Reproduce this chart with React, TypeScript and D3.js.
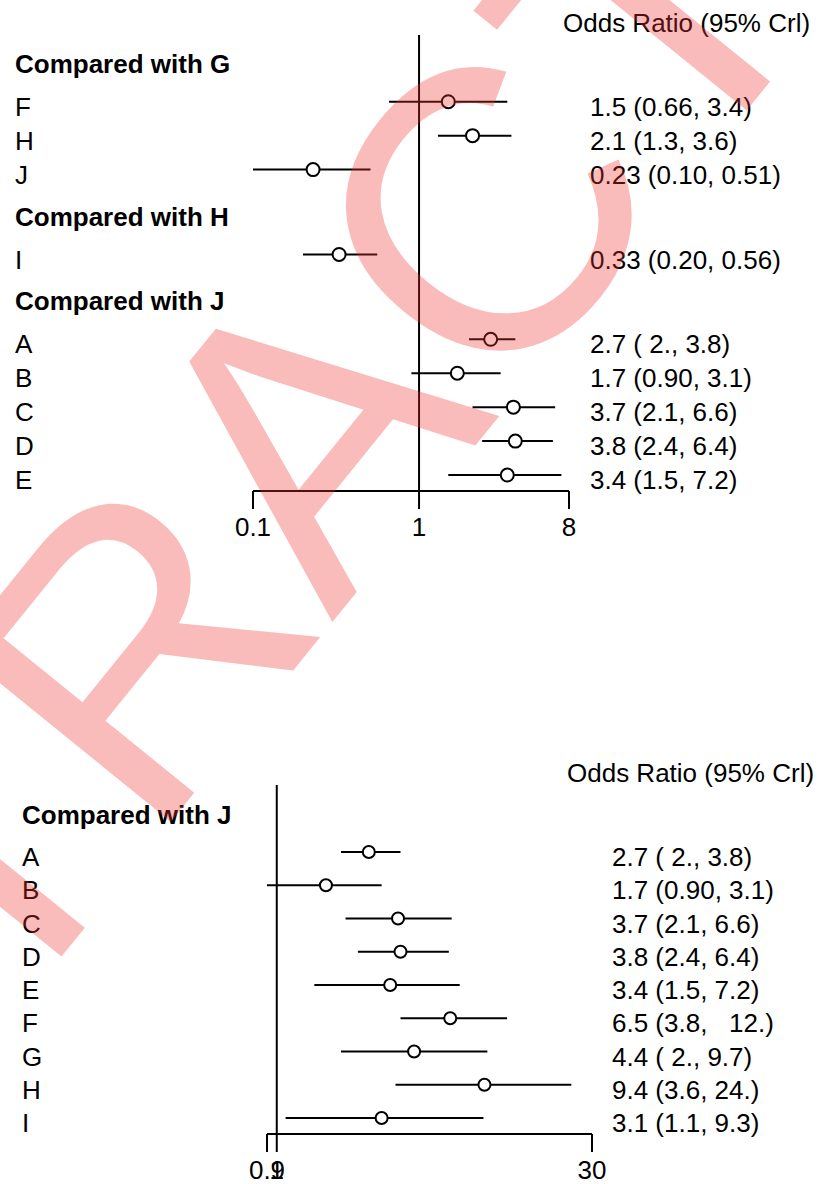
import React from "react";
import * as d3 from "d3";

// Upper panel: comparisons grouped by the reference treatment
const topComparators = ["G", "G", "G", "H", "J", "J", "J", "J", "J"];
const topTreatments = ["F", "H", "J", "I", "A", "B", "C", "D", "E"];
const topMedian = [1.5, 2.1, 0.23, 0.33, 2.7, 1.7, 3.7, 3.8, 3.4];
const topLower = [0.66, 1.3, 0.1, 0.2, 2.0, 0.9, 2.1, 2.4, 1.5];
const topUpper = [3.4, 3.6, 0.51, 0.56, 3.8, 3.1, 6.6, 6.4, 7.2];
const topLabels = [
  "1.5 (0.66, 3.4)",
  "2.1 (1.3, 3.6)",
  "0.23 (0.10, 0.51)",
  "0.33 (0.20, 0.56)",
  "2.7 ( 2., 3.8)",
  "1.7 (0.90, 3.1)",
  "3.7 (2.1, 6.6)",
  "3.8 (2.4, 6.4)",
  "3.4 (1.5, 7.2)",
];
const topTicks = [0.1, 1, 8];

// Lower panel: everything compared with J
const bottomComparators = ["J", "J", "J", "J", "J", "J", "J", "J", "J"];
const bottomTreatments = ["A", "B", "C", "D", "E", "F", "G", "H", "I"];
const bottomMedian = [2.7, 1.7, 3.7, 3.8, 3.4, 6.5, 4.4, 9.4, 3.1];
const bottomLower = [2.0, 0.9, 2.1, 2.4, 1.5, 3.8, 2.0, 3.6, 1.1];
const bottomUpper = [3.8, 3.1, 6.6, 6.4, 7.2, 12, 9.7, 24, 9.3];
const bottomLabels = [
  "2.7 ( 2., 3.8)",
  "1.7 (0.90, 3.1)",
  "3.7 (2.1, 6.6)",
  "3.8 (2.4, 6.4)",
  "3.4 (1.5, 7.2)",
  "6.5 (3.8,   12.)",
  "4.4 ( 2., 9.7)",
  "9.4 (3.6, 24.)",
  "3.1 (1.1, 9.3)",
];
const bottomTicks = [0.9, 1, 30];

const columnTitle = "Odds Ratio (95% Crl)";
const watermarkText = "ABSTRACT";

const FONT = "'Liberation Sans', Arial, Helvetica, sans-serif";

type PanelProps = {
  comparators: string[];
  treatments: string[];
  median: number[];
  lower: number[];
  upper: number[];
  labels: string[];
  ticks: number[];
  xRange: [number, number];
  firstRowY: number;
  step: number;
  titleX: number;
  titleY: number;
  nameX: number;
  valueX: number;
  refTop: number;
  fontSize: number;
  radius: number;
};

function ForestPanel(p: PanelProps) {
  const x = d3
    .scaleLog()
    .domain([p.ticks[0], p.ticks[p.ticks.length - 1]])
    .range(p.xRange);

  // row positions: one step per row, a wider gap where the comparator changes
  const rowY: number[] = [];
  const headers: { name: string; y: number }[] = [];
  let y = p.firstRowY;
  p.treatments.forEach((_, i) => {
    if (i > 0) y += p.comparators[i] !== p.comparators[i - 1] ? 2.5 * p.step : p.step;
    rowY.push(y);
    if (i === 0 || p.comparators[i] !== p.comparators[i - 1]) {
      headers.push({ name: p.comparators[i], y: y - 1.12 * p.step });
    }
  });
  const axisY = rowY[rowY.length - 1] + 16;
  const tickLen = 18;

  return (
    <g fontFamily={FONT} fontSize={p.fontSize} fill="#000">
      <text x={p.titleX} y={p.titleY}>{columnTitle}</text>
      {headers.map((h) => (
        <text key={"h" + h.name + h.y} x={p.nameX} y={h.y} dy="0.35em" fontWeight="bold">
          Compared with {h.name}
        </text>
      ))}
      {/* line of no effect */}
      <line x1={x(1)} x2={x(1)} y1={p.refTop} y2={axisY} stroke="#000" strokeWidth={2} />
      {p.treatments.map((t, i) => (
        <g key={t + i}>
          <text x={p.nameX} y={rowY[i] + 5} dy="0.35em">{t}</text>
          <line
            x1={x(p.lower[i])}
            x2={x(p.upper[i])}
            y1={rowY[i]}
            y2={rowY[i]}
            stroke="#000"
            strokeWidth={2}
          />
          <circle
            cx={x(p.median[i])}
            cy={rowY[i]}
            r={p.radius}
            fill="#fff"
            stroke="#000"
            strokeWidth={2}
          />
          <text x={p.valueX} y={rowY[i] + 5} dy="0.35em" style={{ whiteSpace: "pre" }}>
            {p.labels[i]}
          </text>
        </g>
      ))}
      {/* log axis */}
      <line
        x1={x(p.ticks[0])}
        x2={x(p.ticks[p.ticks.length - 1])}
        y1={axisY}
        y2={axisY}
        stroke="#000"
        strokeWidth={2}
      />
      {p.ticks.map((t) => (
        <g key={"t" + t}>
          <line x1={x(t)} x2={x(t)} y1={axisY} y2={axisY + tickLen} stroke="#000" strokeWidth={2} />
          <text x={x(t)} y={axisY + 45} textAnchor="middle">
            {String(t)}
          </text>
        </g>
      ))}
    </g>
  );
}

export default function App() {
  const W = 829;
  const H = 1184;
  return (
    <svg
      width={W}
      height={H}
      viewBox={`0 0 ${W} ${H}`}
      style={{ position: "absolute", left: 0, top: 0, background: "#fff" }}
    >
      <rect width={W} height={H} fill="#fff" />
      <ForestPanel
        comparators={topComparators}
        treatments={topTreatments}
        median={topMedian}
        lower={topLower}
        upper={topUpper}
        labels={topLabels}
        ticks={topTicks}
        xRange={[253, 569]}
        firstRowY={101.7}
        step={33.94}
        titleX={563}
        titleY={32}
        nameX={15}
        valueX={590}
        refTop={35}
        fontSize={26}
        radius={6.5}
      />
      <ForestPanel
        comparators={bottomComparators}
        treatments={bottomTreatments}
        median={bottomMedian}
        lower={bottomLower}
        upper={bottomUpper}
        labels={bottomLabels}
        ticks={bottomTicks}
        xRange={[267, 592]}
        firstRowY={852}
        step={33.25}
        titleX={567}
        titleY={782}
        nameX={22}
        valueX={612}
        refTop={785}
        fontSize={26}
        radius={6}
      />
      {/* watermark */}
      <text
        transform="translate(164,830) rotate(-51)"
        textAnchor="middle"
        fontFamily={FONT}
        fontSize={400}
        fill="rgb(240,50,50)"
        fillOpacity={0.33}
        style={{ pointerEvents: "none" }}
      >
        {watermarkText}
      </text>
    </svg>
  );
}
